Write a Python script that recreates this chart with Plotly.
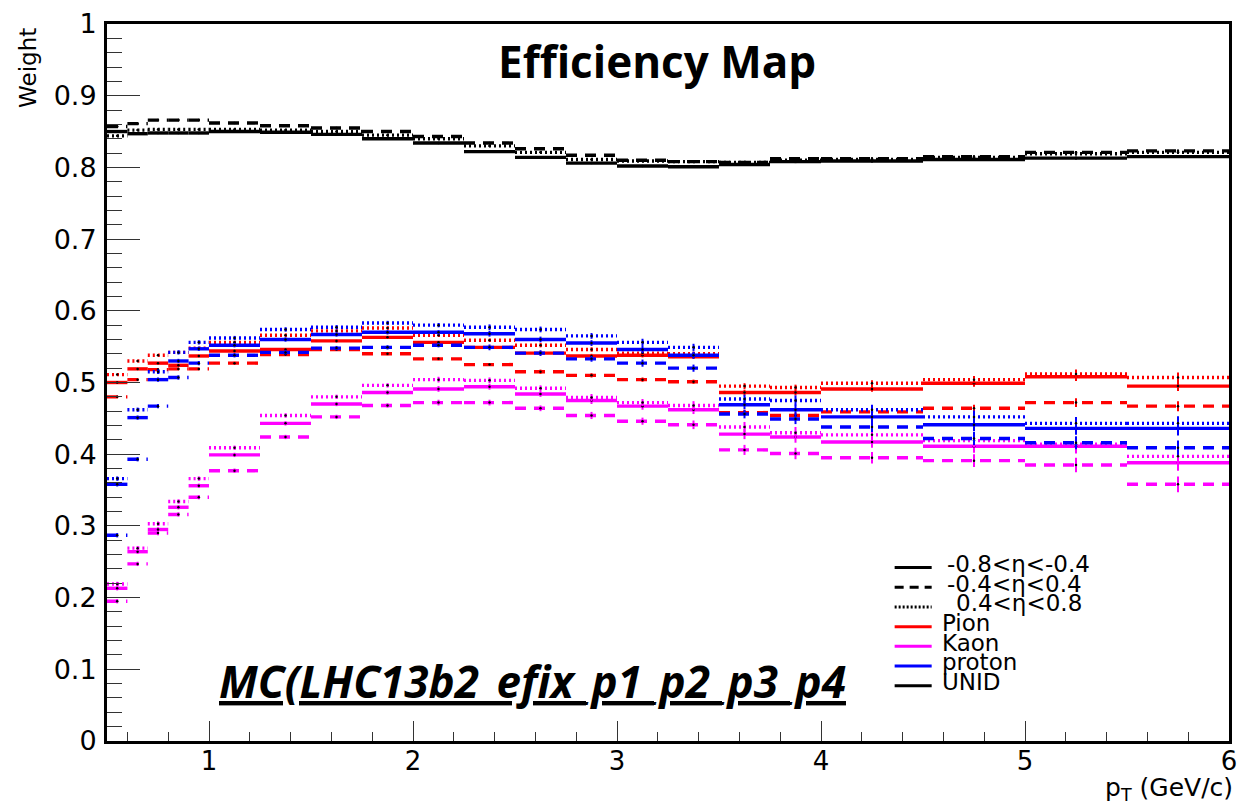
import plotly.graph_objects as go

# ---------------- data ----------------
PT_EDGES = [0.5, 0.6, 0.7, 0.8, 0.9, 1.0, 1.25, 1.5, 1.75, 2.0, 2.25, 2.5,
            2.75, 3.0, 3.25, 3.5, 3.75, 4.0, 4.5, 5.0, 5.5, 6.0]

# eta ranges: A = -0.8<eta<-0.4 (solid), B = -0.4<eta<0.4 (dashed), C = 0.4<eta<0.8 (dotted)
PION_A = [0.500, 0.519, 0.527, 0.524, 0.537, 0.544, 0.546, 0.558, 0.563, 0.556, 0.549,
          0.541, 0.537, 0.538, 0.536, 0.486, 0.486, 0.491, 0.499, 0.508, 0.495]
PION_B = [0.480, 0.504, 0.518, 0.519, 0.519, 0.527, 0.539, 0.546, 0.540, 0.533, 0.525,
          0.515, 0.510, 0.504, 0.501, 0.458, 0.454, 0.459, 0.464, 0.472, 0.467]
PION_C = [0.511, 0.530, 0.538, 0.542, 0.548, 0.556, 0.566, 0.572, 0.576, 0.566, 0.559,
          0.552, 0.546, 0.541, 0.540, 0.495, 0.493, 0.499, 0.504, 0.512, 0.507]

KAON_A = [0.213, 0.264, 0.295, 0.326, 0.356, 0.399, 0.443, 0.470, 0.486, 0.491, 0.494,
          0.484, 0.475, 0.467, 0.462, 0.428, 0.424, 0.417, 0.411, 0.411, 0.388]
KAON_B = [0.195, 0.247, 0.290, 0.316, 0.340, 0.377, 0.424, 0.452, 0.468, 0.472, 0.472,
          0.464, 0.454, 0.446, 0.441, 0.406, 0.401, 0.395, 0.391, 0.385, 0.358]
KAON_C = [0.219, 0.269, 0.303, 0.334, 0.366, 0.409, 0.454, 0.480, 0.496, 0.504, 0.503,
          0.492, 0.479, 0.472, 0.468, 0.438, 0.430, 0.427, 0.419, 0.414, 0.397]

PROTON_A = [0.358, 0.451, 0.504, 0.530, 0.547, 0.552, 0.560, 0.567, 0.570, 0.570, 0.568,
            0.560, 0.555, 0.546, 0.538, 0.469, 0.462, 0.452, 0.441, 0.436, 0.436]
PROTON_B = [0.287, 0.393, 0.467, 0.507, 0.527, 0.538, 0.542, 0.548, 0.549, 0.552, 0.549,
            0.541, 0.533, 0.527, 0.520, 0.456, 0.449, 0.438, 0.422, 0.416, 0.409]
PROTON_C = [0.366, 0.462, 0.515, 0.542, 0.556, 0.562, 0.574, 0.577, 0.583, 0.580, 0.577,
            0.574, 0.565, 0.556, 0.549, 0.477, 0.475, 0.462, 0.452, 0.443, 0.443]

UNID_A = [0.850, 0.847, 0.848, 0.848, 0.848, 0.850, 0.849, 0.846, 0.840, 0.834, 0.822,
          0.814, 0.806, 0.802, 0.801, 0.804, 0.808, 0.809, 0.811, 0.813, 0.815]
UNID_B = [0.857, 0.861, 0.866, 0.866, 0.866, 0.862, 0.858, 0.855, 0.850, 0.843, 0.834,
          0.826, 0.817, 0.810, 0.808, 0.807, 0.812, 0.812, 0.815, 0.821, 0.823]
UNID_C = [0.844, 0.852, 0.853, 0.853, 0.853, 0.853, 0.852, 0.850, 0.845, 0.840, 0.830,
          0.821, 0.811, 0.809, 0.808, 0.807, 0.810, 0.811, 0.814, 0.819, 0.821]

ERR_PION = [0.001, 0.001, 0.001, 0.001, 0.001, 0.002, 0.002, 0.002, 0.002, 0.002, 0.002,
            0.003, 0.003, 0.003, 0.003, 0.004, 0.004, 0.004, 0.005, 0.006, 0.007]
ERR_KAON = [0.003, 0.003, 0.003, 0.003, 0.003, 0.003, 0.003, 0.003, 0.003, 0.004, 0.004,
            0.004, 0.005, 0.005, 0.006, 0.007, 0.008, 0.008, 0.009, 0.010, 0.011]
ERR_PROTON = [0.003, 0.003, 0.003, 0.003, 0.003, 0.003, 0.003, 0.003, 0.003, 0.003, 0.004,
              0.004, 0.004, 0.005, 0.005, 0.006, 0.007, 0.007, 0.009, 0.009, 0.010]
ERR_UNID = [0.001, 0.001, 0.001, 0.001, 0.001, 0.001, 0.001, 0.001, 0.001, 0.001, 0.001,
            0.001, 0.001, 0.001, 0.001, 0.002, 0.002, 0.002, 0.002, 0.002, 0.002]

SPECIES = ["Pion", "Kaon", "proton", "UNID"]
ETA_LABELS = ["-0.8&lt;η&lt;-0.4", "-0.4&lt;η&lt;0.4", "0.4&lt;η&lt;0.8"]
LEGEND_LABELS = ETA_LABELS + SPECIES

# ---------------- styles ----------------
COLORS = {"Pion": "#ff0000", "Kaon": "#ff00ff", "proton": "#0000ff", "UNID": "#000000"}
DASHES = ["solid", "11px,8px", "2px,3px"]
LW = 3.4

series = {
    "Pion": ([PION_A, PION_B, PION_C], ERR_PION),
    "Kaon": ([KAON_A, KAON_B, KAON_C], ERR_KAON),
    "proton": ([PROTON_A, PROTON_B, PROTON_C], ERR_PROTON),
    "UNID": ([UNID_A, UNID_B, UNID_C], ERR_UNID),
}

centers = [(a + b) / 2 for a, b in zip(PT_EDGES[:-1], PT_EDGES[1:])]


def bin_segments(edges, vals):
    """Horizontal segment per bin (ROOT-style, no vertical connectors)."""
    xs, ys = [], []
    for lo, hi, v in zip(edges[:-1], edges[1:], vals):
        xs += [lo, hi, None]
        ys += [v, v, None]
    return xs, ys


fig = go.Figure()
for sp in SPECIES:
    vals_list, errs = series[sp]
    for k, vals in enumerate(vals_list):
        xs, ys = bin_segments(PT_EDGES, vals)
        fig.add_trace(go.Scatter(
            x=xs, y=ys, mode="lines", connectgaps=False,
            line=dict(color=COLORS[sp], width=LW, dash=DASHES[k]),
            showlegend=False, hoverinfo="skip"))
        fig.add_trace(go.Scatter(
            x=centers, y=vals, mode="markers",
            marker=dict(color="black", size=2.5),
            error_y=dict(type="data", array=errs, visible=True, color=COLORS[sp],
                         thickness=2, width=0),
            showlegend=False))

FONT_AX = "DejaVu Sans"

fig.update_layout(
    width=1245, height=807, autosize=False,
    margin=dict(l=107, r=8, t=19, b=66),
    paper_bgcolor="white", plot_bgcolor="white",
    showlegend=False,
    xaxis=dict(range=[0.5, 6], showgrid=False, zeroline=False,
               showline=True, linecolor="black", linewidth=3, mirror=True,
               ticks="inside", ticklen=20, tickwidth=1, tickcolor="#333",
               tick0=0, dtick=1, ticklabelstandoff=-5,
               minor=dict(ticks="inside", ticklen=9, dtick=0.2, tickcolor="#333", tickwidth=1),
               tickfont=dict(family=FONT_AX, size=26, color="black")),
    yaxis=dict(range=[0, 1], showgrid=False, zeroline=False,
               showline=True, linecolor="black", linewidth=3, mirror=True,
               ticks="inside", ticklen=33, tickwidth=1, tickcolor="#333",
               tick0=0, dtick=0.1, ticklabelstandoff=2,
               minor=dict(ticks="inside", ticklen=15, dtick=0.02, tickcolor="#333", tickwidth=1),
               tickfont=dict(family=FONT_AX, size=27, color="black")),
)

ann = []
ann.append(dict(text="<b>Efficiency Map</b>", xref="paper", yref="paper",
                x=0.490, y=0.948, xanchor="center", yanchor="middle", showarrow=False,
                font=dict(family="Open Sans", size=44, color="black")))
ann.append(dict(text="<b><i><u>MC(LHC13b2_efix_p1_p2_p3_p4</u></i></b>", xref="paper",
                yref="paper", x=0.379, y=0.084, xanchor="center", yanchor="middle",
                showarrow=False, font=dict(family="Open Sans", size=44, color="black")))
ann.append(dict(text="p<sub>T</sub> (GeV/c)", xref="paper", yref="paper",
                x=1.0, y=-0.067, xanchor="right", yanchor="middle", showarrow=False,
                xshift=6, font=dict(family=FONT_AX, size=25, color="black")))
ann.append(dict(text="Weight", xref="paper", yref="paper", textangle=-90,
                x=-0.070, y=0.998, xanchor="center", yanchor="top", showarrow=False,
                font=dict(family=FONT_AX, size=23, color="black")))

# legend (ROOT-like compact box)
LEG_Y0 = 0.242
LEG_DY = 0.0275
LEG_X0, LEG_X1, LEG_XT = 0.702, 0.735, 0.742
LEG_TEXT_DX = [0.005, 0.005, 0.013, 0, 0, 0, 0]
leg_colors = ["black", "black", "black"] + [COLORS[s] for s in SPECIES]
leg_dash = ["solid", "9px,6px", "2px,2px"] + ["solid"] * 4
shapes = []
for i, lab in enumerate(LEGEND_LABELS):
    yy = LEG_Y0 - i * LEG_DY
    shapes.append(dict(type="line", xref="paper", yref="paper", x0=LEG_X0, x1=LEG_X1,
                       y0=yy, y1=yy, line=dict(color=leg_colors[i], width=3, dash=leg_dash[i])))
    ann.append(dict(text=lab, xref="paper", yref="paper", x=LEG_XT + LEG_TEXT_DX[i],
                    y=yy + 0.005, xanchor="left", yanchor="middle", showarrow=False,
                    font=dict(family=FONT_AX, size=23, color="black")))

fig.update_layout(annotations=ann, shapes=shapes)
fig.write_html("out.html")
